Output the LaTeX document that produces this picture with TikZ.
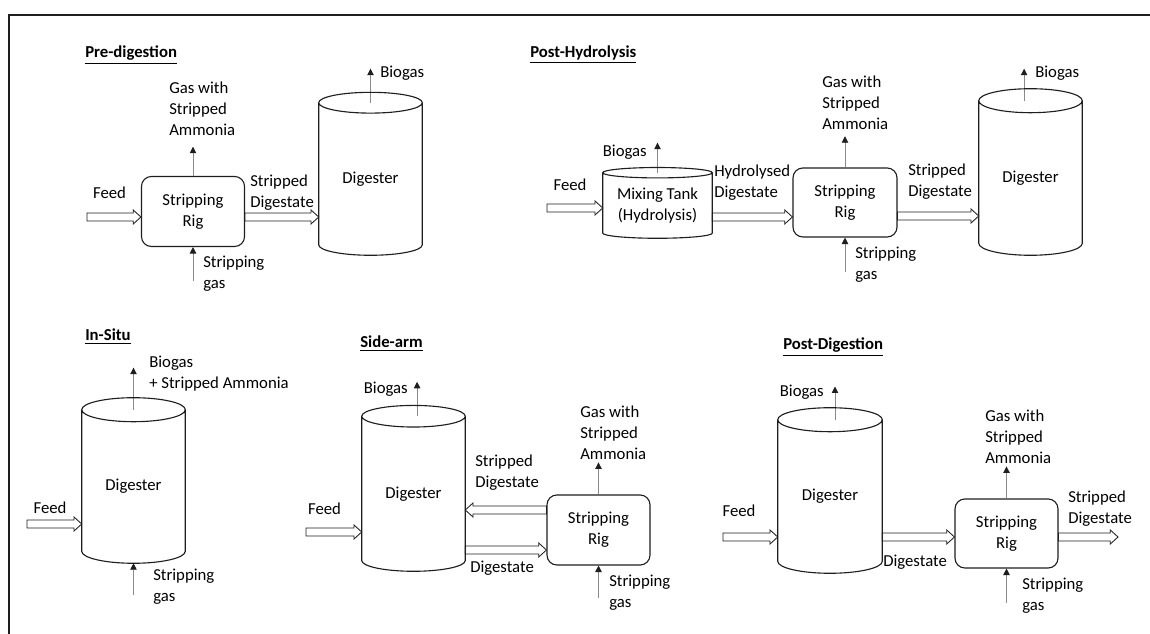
\documentclass[tikz,border=0pt]{standalone}
\usepackage{fontspec}
\setmainfont{Carlito}
\usepackage{tikz}
\usetikzlibrary{arrows.meta,positioning,calc}
\definecolor{ink}{HTML}{1E1E1E}
\definecolor{stem}{HTML}{8A8A8A}

\begin{document}
\begin{tikzpicture}[
  font=\fontsize{11.9}{15}\selectfont,
  >={Triangle[length=4.6pt, width=4.6pt, color=ink]},
  rig/.style={draw=ink, line width=0.8pt, rounded corners=7pt, align=center, inner sep=0pt, minimum width=2.575cm, minimum height=1.75cm},
  vessel/.style={align=center, inner sep=0pt, minimum width=2.575cm, minimum height=3.825cm},
  shell/.style={draw=ink, line width=0.8pt},
  lab/.style={align=left, inner sep=0pt, anchor=west},
  ttl/.style={inner sep=0pt, anchor=base west, font=\fontsize{11.9}{15}\selectfont\bfseries},
  gas/.style={->, draw=stem, line width=0.6pt},
  hollow/.style={draw=ink, line width=0.6pt, fill=white, to path={
    ([yshift=2.8pt]\tikztostart) -- ([xshift=#1, yshift=2.8pt]\tikztotarget)
    -- ([xshift=#1, yshift=5pt]\tikztotarget) -- (\tikztotarget)
    -- ([xshift=#1, yshift=-5pt]\tikztotarget) -- ([xshift=#1, yshift=-2.8pt]\tikztotarget)
    -- ([yshift=-2.8pt]\tikztostart) -- cycle}},
  hollow/.default=-5.5pt,
]
\useasboundingbox (0,0) rectangle (28.75,15.85);
% page frame (cut off at right and bottom)
\draw[ink, line width=1.2pt] (0.2325,0) -- (0.2325,15.475) -- (28.75,15.475);

% Pre-digestion
\node[ttl] (t1) at (2.125,14.4) {\underline{Pre-digestion}};
\node (feed1) at (2.7375,11.025) {Feed};
\node[rig] (rig1) at (4.825,10.5625) {Stripping\\Rig};
\node[vessel, minimum height=3.8cm] (dig1) at (9.2625,11.375) {Digester};
\node[lab] (gas1) at (4.225,13.125) {Gas with\\Stripped\\Ammonia};
\node[lab] (sgas1) at (5.075,9.0) {Stripping\\gas};
\node[lab] (sd1) at (6.25,11.025) {Stripped\\Digestate};
\node[lab] (bio1) at (9.5,14.025) {Biogas};
\coordinate (in1) at (2.175,10.425);
\draw[hollow] (in1) to (in1 -| rig1.west);
\draw[hollow] (in1 -| rig1.east) to (in1 -| dig1.west);
\draw[gas] (rig1.north) -- ++(0,0.73);
\draw[gas] ([yshift=-0.85cm]rig1.south) -- (rig1.south);
\draw[gas] (dig1.north) -- ++(0,0.85);

% Post-Hydrolysis
\node[ttl] (t2) at (13.25,14.4) {\underline{Post-Hydrolysis}};
\node (feed2) at (14.25,11.225) {Feed};
\node[vessel, minimum width=2.725cm, minimum height=1.625cm] (tank) at (16.4375,10.7125) {Mixing Tank\\(Hydrolysis)};
\node[rig, minimum width=2.6cm, minimum height=1.725cm] (rig2) at (21.125,10.7875) {Stripping\\Rig};
\node[vessel, minimum height=3.85cm] (dig2) at (25.7625,11.4) {Digester};
\node[lab, anchor=east] (bio2a) at (16.175,12.05) {Biogas};
\node[lab] (hyd2) at (17.85,11.2875) {Hydrolysed\\Digestate};
\node[lab] (gas2) at (20.55,13.275) {Gas with\\Stripped\\Ammonia};
\node[lab] (sgas2) at (21.375,9.225) {Stripping\\gas};
\node[lab] (sd2) at (22.7,11.3125) {Stripped\\Digestate};
\node[lab] (bio2) at (25.875,14.025) {Biogas};
\coordinate (in2) at (13.675,10.65);
\draw[hollow] (in2) to (in2 -| tank.west);
\draw[hollow] ([yshift=-0.2875cm]tank.east) to ([yshift=-0.2875cm]tank.east -| rig2.west);
\draw[hollow] ([yshift=-0.3375cm]rig2.east) to ([yshift=-0.3375cm]rig2.east -| dig2.west);
\draw[gas] (tank.north) -- ++(0,0.75);
\draw[gas] (rig2.north) -- ++(0,0.78);
\draw[gas] ([yshift=-0.85cm]rig2.south) -- (rig2.south);
\draw[gas] ([xshift=-0.16cm]dig2.north) -- ++(0,0.8);

% In-Situ
\node[ttl] (t3) at (2.125,7.325) {\underline{In-Situ}};
\node[vessel] (dig3) at (3.3375,3.6875) {Digester};
\node (feed3) at (1.25,3.15) {Feed};
\node[lab] (bio3) at (3.725,6.5125) {Biogas\\+ Stripped Ammonia};
\node[lab] (sgas3) at (3.825,1.175) {Stripping\\gas};
\coordinate (in3) at (0.675,2.75);
\draw[hollow] (in3) to (in3 -| dig3.west);
\draw[gas] (dig3.north) -- ++(0,1.05);
\draw[gas] ([yshift=-0.8cm]dig3.south) -- (dig3.south);

% Side-arm
\node[ttl] (t4) at (9.0,7.15) {\underline{Side-arm}};
\node[vessel, minimum height=3.8625cm] (dig4) at (10.3375,3.506) {Digester};
\node[rig] (rig4) at (14.9625,2.6) {Stripping\\Rig};
\node (feed4) at (8.1125,3.125) {Feed};
\node[lab, anchor=east] (bio4) at (10.2,6.125) {Biogas};
\node[lab] (sd4) at (11.875,4.025) {Stripped\\Digestate};
\node[lab] (d4) at (11.75,1.65) {Digestate};
\node[lab] (gas4) at (14.5,5.025) {Gas with\\Stripped\\Ammonia};
\node[lab] (sgas4) at (15.225,1.0375) {Stripping\\gas};
\coordinate (in4) at (7.65,2.55);
\draw[hollow] (in4) to (in4 -| dig4.west);
\draw[hollow=5.5pt] ([yshift=0.5cm]rig4.west) to ([yshift=0.5cm]rig4.west -| dig4.east);
\draw[hollow] ([yshift=-0.5cm]rig4.west -| dig4.east) to ([yshift=-0.5cm]rig4.west);
\draw[gas] ([xshift=0.09cm]dig4.north) -- ++(0,0.86);
\draw[gas] (rig4.north) -- ++(0,0.8);
\draw[gas] ([yshift=-0.8cm]rig4.south) -- (rig4.south);

% Post-Digestion
\node[ttl] (t5) at (19.575,7.1) {\underline{Post-Digestion}};
\node[vessel, minimum width=2.6cm] (dig5) at (20.75,3.4375) {Digester};
\node[rig, minimum height=1.725cm] (rig5) at (25.1625,2.5125) {Stripping\\Rig};
\node (feed5) at (18.475,3.075) {Feed};
\node[lab, anchor=east] (bio5) at (20.6,6.05) {Biogas};
\node[lab] (d5) at (22.075,1.8) {Digestate};
\node[lab] (gas5) at (24.625,4.925) {Gas with\\Stripped\\Ammonia};
\node[lab] (sgas5) at (25.55,0.9625) {Stripping\\gas};
\node[lab] (sd5) at (26.7,3.1375) {Stripped\\Digestate};
\coordinate (in5) at (18.075,2.425);
\coordinate (out5) at (27.95,2.425);
\draw[hollow] (in5) to (in5 -| dig5.west);
\draw[hollow] (in5 -| dig5.east) to (in5 -| rig5.west);
\draw[hollow] (in5 -| rig5.east) to (out5);
\draw[gas] ([xshift=0.125cm]dig5.north) -- ++(0,0.83);
\draw[gas] (rig5.north) -- ++(0,0.8);
\draw[gas] ([yshift=-0.85cm]rig5.south) -- (rig5.south);

% cylinder outlines round the vessel nodes
\foreach \vs/\ry in {dig1/0.26, dig2/0.3, dig3/0.3, dig4/0.27, dig5/0.3, tank/0.13}
  \draw[shell] let \p1=(\vs.north west), \p2=(\vs.north east), \n1={0.5*(\x2-\x1)} in
    (\vs.north) ellipse [x radius=\n1, y radius=\ry cm]
    (\vs.north west) -- ([yshift=\ry cm]\vs.south west)
    arc [start angle=180, end angle=360, x radius=\n1, y radius=\ry cm]
    -- (\vs.north east);
\end{tikzpicture}
\end{document}
